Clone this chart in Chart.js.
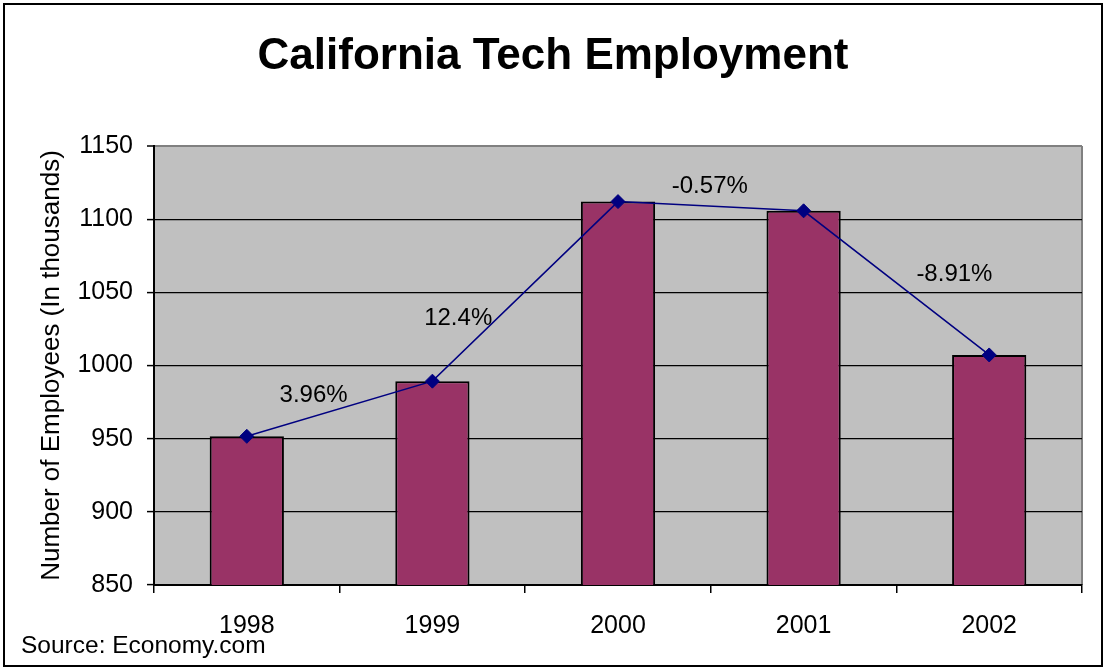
<!DOCTYPE html>
<html>
<head>
<meta charset="utf-8">
<script src="https://cdn.jsdelivr.net/npm/chart.js@4/dist/chart.umd.min.js"></script>
<style>
  html, body { margin: 0; padding: 0; background: #fff; }
  #wrap { width: 1105px; height: 668px; }
</style>
</head>
<body>
<div id="wrap"><canvas id="c" width="1105" height="668"></canvas></div>
<script>
// Tech employment in California, thousands of employees
const years = ['1998', '1999', '2000', '2001', '2002'];
const employees = [951.6, 989.3, 1112.0, 1105.7, 1007.2];
// Year-over-year change between consecutive years
const changeLabels = ['3.96%', '12.4%', '-0.57%', '-8.91%'];
const yTicks = [850, 900, 950, 1000, 1050, 1100, 1150];

const FONT = '"Liberation Sans", Arial, Helvetica, sans-serif';

// Plot background, frame and free text (title, source, change labels)
const decorations = {
  id: 'decorations',
  beforeDraw(chart) {
    const { ctx, chartArea: a } = chart;
    ctx.save();
    ctx.fillStyle = '#ffffff';
    ctx.fillRect(0, 0, chart.width, chart.height);
    ctx.fillStyle = '#C0C0C0';
    ctx.fillRect(a.left, a.top, a.right - a.left, a.bottom - a.top);
    ctx.strokeStyle = '#808080';
    ctx.lineWidth = 2;
    ctx.beginPath();
    ctx.moveTo(a.right, a.top);
    ctx.lineTo(a.right, a.bottom);
    ctx.stroke();
    ctx.restore();
  },
  afterDraw(chart) {
    const { ctx } = chart;
    ctx.save();
    // outer frame
    ctx.strokeStyle = '#000';
    ctx.lineWidth = 2;
    ctx.strokeRect(4, 4, 1098, 662);
    // title
    ctx.fillStyle = '#000';
    ctx.textAlign = 'center';
    ctx.textBaseline = 'middle';
    ctx.font = 'bold 44px ' + FONT;
    ctx.fillText('California Tech Employment', 553, 57);
    // source note
    ctx.textAlign = 'left';
    ctx.textBaseline = 'alphabetic';
    ctx.font = '24.5px ' + FONT;
    ctx.fillText('Source: Economy.com', 21, 653);
    // change labels, placed beside the midpoint of each line segment
    const x = chart.scales.x, y = chart.scales.y;
    const offsets = [[-26, -13], [-67, 27], [-1, -20], [58, -9]];
    ctx.textAlign = 'center';
    ctx.textBaseline = 'middle';
    ctx.font = '24px ' + FONT;
    changeLabels.forEach((txt, i) => {
      const mx = (x.getPixelForValue(i) + x.getPixelForValue(i + 1)) / 2;
      const my = (y.getPixelForValue(employees[i]) + y.getPixelForValue(employees[i + 1])) / 2;
      ctx.fillText(txt, mx + offsets[i][0], my + offsets[i][1]);
    });
    ctx.restore();
  }
};

new Chart(document.getElementById('c'), {
  data: {
    labels: years,
    datasets: [
      {
        type: 'line',
        data: employees,
        borderColor: '#000080',
        borderWidth: 1.5,
        pointStyle: 'rectRot',
        pointRadius: 7,
        pointBackgroundColor: '#000080',
        pointBorderColor: '#000080',
        pointBorderWidth: 1,
        tension: 0,
        order: 0
      },
      {
        type: 'bar',
        data: employees,
        backgroundColor: '#993366',
        borderColor: '#000',
        borderWidth: 2,
        borderSkipped: false,
        barPercentage: 0.4,
        categoryPercentage: 1,
        order: 1
      }
    ]
  },
  options: {
    responsive: false,
    animation: false,
    devicePixelRatio: 1,
    layout: { padding: { left: 20, right: 23, top: 146, bottom: 0 } },
    plugins: {
      legend: { display: false },
      title: { display: false },
      tooltip: { enabled: false }
    },
    scales: {
      x: {
        offset: true,
        grid: {
          offset: true,
          drawOnChartArea: false,
          drawTicks: true,
          tickLength: 8,
          color: '#000',
          lineWidth: 1.5
        },
        border: { color: '#000', width: 2 },
        ticks: {
          color: '#000',
          font: { family: FONT, size: 25 },
          padding: 18,
          maxRotation: 0
        },
        afterFit(scale) { scale.height = 83; }
      },
      y: {
        min: yTicks[0],
        max: yTicks[yTicks.length - 1],
        afterBuildTicks(scale) { scale.ticks = yTicks.map(v => ({ value: v })); },
        grid: {
          color: ctx => (ctx.tick && ctx.tick.value === yTicks[yTicks.length - 1]) ? '#808080' : '#000',
          lineWidth: ctx => (ctx.tick && ctx.tick.value === yTicks[yTicks.length - 1]) ? 2 : 1.2,
          tickColor: '#000',
          tickLength: 7,
          tickWidth: 1.5
        },
        border: { color: '#000', width: 2 },
        ticks: {
          color: '#000',
          font: { family: FONT, size: 25 },
          padding: 14,
          callback: v => String(v)
        },
        title: {
          display: true,
          text: 'Number of Employees (In thousands)',
          color: '#000',
          font: { family: FONT, size: 26 },
          padding: { top: 16, bottom: 0 }
        },
        afterFit(scale) { scale.width = 134; }
      }
    }
  },
  plugins: [decorations]
});
</script>
</body>
</html>
